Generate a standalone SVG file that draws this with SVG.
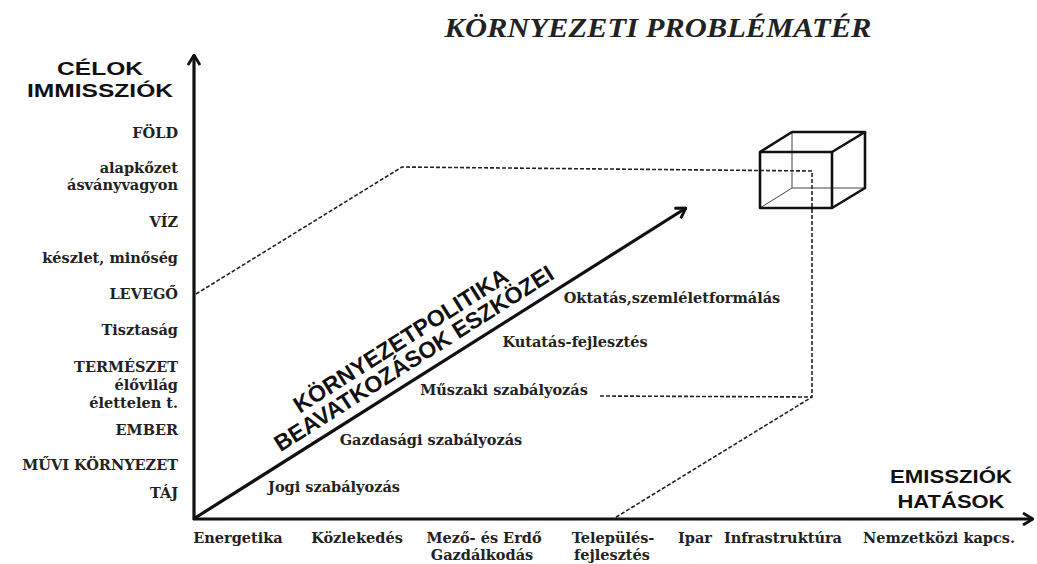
<svg xmlns="http://www.w3.org/2000/svg" width="1037" height="564" viewBox="0 0 1037 564">
<defs>
<style>
.lbl{font-family:"DejaVu Serif","Liberation Serif",serif;font-weight:bold;font-size:14.5px;fill:#222}
.r{text-anchor:end}
.m{text-anchor:middle}
.head{font-family:"Liberation Sans",Arial,sans-serif;font-weight:bold;font-size:18px;fill:#111;text-anchor:middle}
.diag{font-family:"Liberation Sans",Arial,sans-serif;font-weight:bold;font-size:23px;fill:#111;text-anchor:middle}
.title{font-family:"Liberation Serif","Times New Roman",serif;font-weight:bold;font-style:italic;font-size:28px;fill:#222;text-anchor:middle}
.axis{stroke:#111;stroke-width:3.2;fill:none}
.dash{stroke:#222;stroke-width:1.6;fill:none;stroke-dasharray:4 2}
.thick{stroke:#111;stroke-width:2.6;fill:none;stroke-linejoin:round}
.thin{stroke:#444;stroke-width:1;fill:none}
</style>
<marker id="chev" viewBox="0 0 12 14" refX="11" refY="7" markerWidth="12" markerHeight="14" markerUnits="userSpaceOnUse" orient="auto">
<polyline points="1,1 11,7 1,13" fill="none" stroke="#111" stroke-width="2.8" stroke-linejoin="miter"/>
</marker>
</defs>
<rect width="1037" height="564" fill="#fff"/>

<g id="title"><text class="title" x="658" y="37" textLength="427" lengthAdjust="spacingAndGlyphs">KÖRNYEZETI PROBLÉMATÉR</text></g>

<g id="connectors">
<line class="axis" x1="194" y1="520" x2="194" y2="55" marker-end="url(#chev)"/>
<line class="axis" x1="193" y1="519" x2="1033" y2="519" marker-end="url(#chev)"/>
<line class="axis" x1="195" y1="518" x2="686" y2="208" marker-end="url(#chev)"/>
<polyline class="dash" points="196,294 402,167 812,171 812,397 613,519"/>
<line class="dash" x1="600" y1="396" x2="812" y2="397"/>
</g>

<g id="cube">
<line class="thin" x1="792" y1="132" x2="792" y2="188"/>
<line class="thin" x1="792" y1="188" x2="865" y2="188"/>
<line class="thin" x1="760" y1="208" x2="792" y2="188"/>
<rect class="thick" x="760" y="152" width="72" height="56"/>
<polyline class="thick" points="760,152 792,132 865,132 832,152"/>
<polyline class="thick" points="832,208 865,188 865,132"/>
</g>

<g id="y-axis-title">
<text class="head" x="100" y="75" textLength="86" lengthAdjust="spacingAndGlyphs">CÉLOK</text>
<text class="head" x="100" y="97" textLength="146" lengthAdjust="spacingAndGlyphs">IMMISSZIÓK</text>
</g>

<g id="y-labels">
<text class="lbl r" x="178" y="138">FÖLD</text>
<text class="lbl r" x="178" y="173">alapkőzet</text>
<text class="lbl r" x="178" y="190">ásványvagyon</text>
<text class="lbl r" x="178" y="227">VÍZ</text>
<text class="lbl r" x="178" y="263">készlet, minőség</text>
<text class="lbl r" x="178" y="299">LEVEGŐ</text>
<text class="lbl r" x="178" y="335">Tisztaság</text>
<text class="lbl r" x="178" y="372">TERMÉSZET</text>
<text class="lbl r" x="178" y="390">élővilág</text>
<text class="lbl r" x="178" y="408">élettelen t.</text>
<text class="lbl r" x="178" y="435">EMBER</text>
<text class="lbl r" x="178" y="470">MŰVI KÖRNYEZET</text>
<text class="lbl r" x="178" y="498">TÁJ</text>
</g>

<g id="x-axis-title">
<text class="head" x="951" y="483" textLength="122" lengthAdjust="spacingAndGlyphs">EMISSZIÓK</text>
<text class="head" x="951" y="508" textLength="107" lengthAdjust="spacingAndGlyphs">HATÁSOK</text>
</g>

<g id="x-labels">
<text class="lbl m" x="238" y="543">Energetika</text>
<text class="lbl m" x="357" y="543">Közlekedés</text>
<text class="lbl m" x="484" y="543">Mező- és Erdő</text>
<text class="lbl m" x="482" y="560">Gazdálkodás</text>
<text class="lbl m" x="613" y="543">Település-</text>
<text class="lbl m" x="612" y="560">fejlesztés</text>
<text class="lbl m" x="695" y="543">Ipar</text>
<text class="lbl m" x="783" y="543">Infrastruktúra</text>
<text class="lbl m" x="939" y="543">Nemzetközi kapcs.</text>
</g>

<g id="diagonal-title">
<text class="diag" transform="translate(405,347) rotate(-32.4)">KÖRNYEZETPOLITIKA</text>
<text class="diag" transform="translate(418,365) rotate(-32.4)">BEAVATKOZÁSOK ESZKÖZEI</text>
</g>

<g id="instruments">
<text class="lbl m" x="672" y="303">Oktatás,szemléletformálás</text>
<text class="lbl m" x="575" y="347">Kutatás-fejlesztés</text>
<text class="lbl m" x="504" y="395">Műszaki szabályozás</text>
<text class="lbl m" x="431" y="445">Gazdasági szabályozás</text>
<text class="lbl m" x="334" y="492">Jogi szabályozás</text>
</g>
</svg>
